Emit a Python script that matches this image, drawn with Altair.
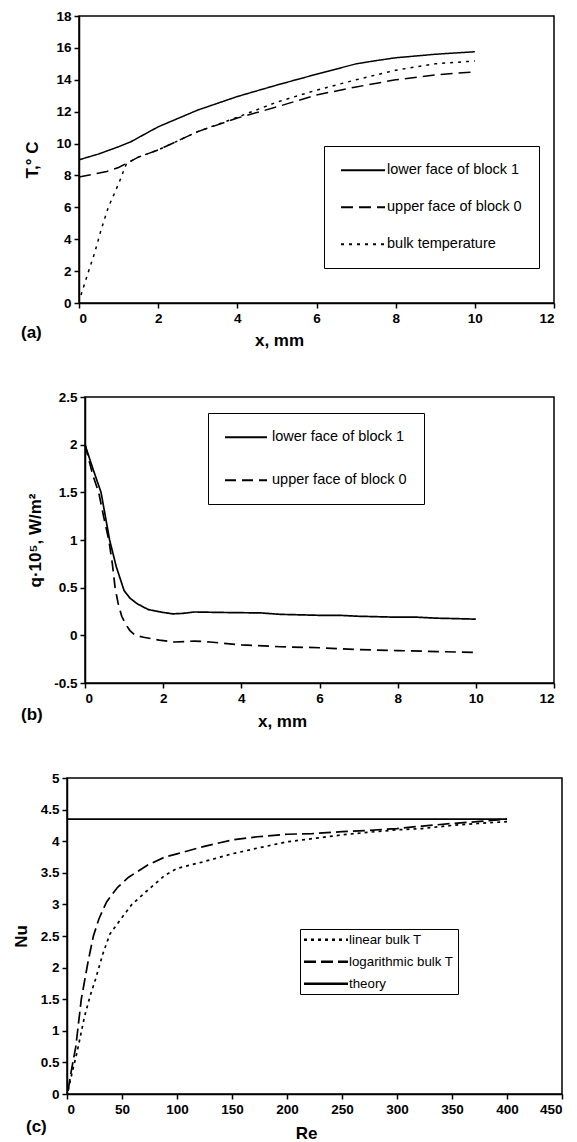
import math
import altair as alt
import pandas as pd

FONT = "Liberation Sans"

# ---------------- Panel (a): temperature ----------------
a_series = ["lower face of block 1", "upper face of block 0", "bulk temperature"]
a_x_lower = [0, 0.5, 1.0, 1.3, 2, 3, 4, 5, 6, 7, 7.5, 8, 9, 10]
a_T_lower = [8.98, 9.35, 9.8, 10.1, 11.05, 12.1, 12.95, 13.67, 14.35, 15.0, 15.2, 15.38, 15.6, 15.76]
a_x_upper = [0, 0.4, 0.7, 1.0, 1.5, 2, 3, 4, 5, 6, 7, 8, 9, 10]
a_T_upper = [7.9, 8.1, 8.25, 8.5, 9.15, 9.6, 10.75, 11.6, 12.3, 13.05, 13.55, 14.0, 14.3, 14.5]
a_x_bulk = [0.05, 0.23, 0.39, 0.56, 0.74, 0.9, 1.02, 1.2, 1.5, 2, 3, 4, 5, 6, 7, 8, 9, 10]
a_T_bulk = [0.5, 1.9, 3.1, 4.6, 6.0, 6.9, 7.6, 8.75, 9.15, 9.6, 10.75, 11.65, 12.6, 13.35, 14.0, 14.6, 15.0, 15.18]

# ---------------- Panel (b): heat flux ----------------
b_series = ["lower face of block 1", "upper face of block 0"]
b_x_lower = [0, 0.2, 0.41, 0.52, 0.63, 0.8, 1.0, 1.15, 1.34, 1.62, 2.0, 2.25, 2.5, 2.8, 3.5, 4.5, 5, 6, 6.5, 7, 8, 8.5, 9, 10]
b_q_lower = [2.0, 1.75, 1.5, 1.25, 1.0, 0.72, 0.47, 0.39, 0.33, 0.27, 0.24, 0.225, 0.23, 0.245, 0.24, 0.235, 0.22, 0.21, 0.21, 0.2, 0.19, 0.19, 0.18, 0.17]
b_x_upper = [0, 0.2, 0.35, 0.5, 0.61, 0.7, 0.77, 0.85, 0.94, 1.05, 1.15, 1.29, 1.5, 1.9, 2.3, 2.8, 3.2, 4, 5, 6, 7, 8, 9, 10]
b_q_upper = [2.0, 1.68, 1.5, 1.2, 1.0, 0.75, 0.5, 0.33, 0.2, 0.11, 0.05, 0.0, -0.02, -0.05, -0.07, -0.06, -0.07, -0.1, -0.12, -0.13, -0.15, -0.16, -0.17, -0.18]

# ---------------- Panel (c): Nusselt number ----------------
c_series = ["linear bulk T", "logarithmic bulk T", "theory"]
c_Re_lin = [1, 6, 9, 16, 21, 26, 33, 39, 49, 59, 73, 89, 100, 123, 150, 173, 200, 223, 250, 273, 300, 323, 350, 373, 400]
c_Nu_lin = [0.06, 0.44, 0.65, 1.23, 1.55, 1.82, 2.24, 2.53, 2.77, 3.0, 3.22, 3.46, 3.57, 3.67, 3.8, 3.89, 3.99, 4.04, 4.1, 4.14, 4.18, 4.2, 4.25, 4.28, 4.31]
c_Re_log = [1, 3, 8, 13, 19, 24, 29, 36, 46, 56, 73, 89, 100, 123, 150, 173, 200, 223, 250, 273, 300, 323, 350, 373, 400]
c_Nu_log = [0.05, 0.28, 0.75, 1.5, 2.08, 2.5, 2.77, 3.04, 3.27, 3.43, 3.62, 3.75, 3.8, 3.91, 4.02, 4.07, 4.11, 4.12, 4.15, 4.17, 4.2, 4.24, 4.28, 4.31, 4.35]
c_Re_theory = [0, 400]
c_Nu_theory = [4.35, 4.35]


def long_df(xs, ys, names, xname, yname):
    rows = []
    for xv, yv, n in zip(xs, ys, names):
        for i, (a, b) in enumerate(zip(xv, yv)):
            rows.append({xname: a, yname: b, "series": n, "i": i})
    return pd.DataFrame(rows)


df_a = long_df([a_x_lower, a_x_upper, a_x_bulk], [a_T_lower, a_T_upper, a_T_bulk], a_series, "x", "T")
df_b = long_df([b_x_lower, b_x_upper], [b_q_lower, b_q_upper], b_series, "x", "q")
df_c = long_df([c_Re_lin, c_Re_log, c_Re_theory], [c_Nu_lin, c_Nu_log, c_Nu_theory], c_series, "Re", "Nu")

LABEL_EXPR = "'' + datum.value"


def x_axis(title, values, title_x, title_y):
    return alt.Axis(title=title, values=values, labelExpr=LABEL_EXPR, titleX=title_x, titleY=title_y,
                    titleBaseline="middle")


def y_axis(title, values, title_x):
    return alt.Axis(title=title, values=values, labelExpr=LABEL_EXPR, titleX=title_x,
                    titleBaseline="middle")


def legend(x, y, size, row_pad, pad, sym_len, sym_w, gap):
    # symbol: horizontal path scaled by sqrt(size)/2 = 5
    half = sym_len / 10.0
    entry = max(math.ceil(10 + sym_w), size)
    sym_off = sym_len / 2 - entry / 2
    return alt.Legend(orient="none", legendX=x, legendY=y, title=None,
                      symbolType="M-%.2f,0H%.2f" % (half, half), symbolSize=100,
                      symbolStrokeWidth=sym_w, symbolStrokeColor="black",
                      symbolOffset=sym_off, labelOffset=sym_len / 2 + gap - entry / 2,
                      labelFont=FONT, labelFontSize=size, labelColor="black",
                      rowPadding=row_pad, padding=pad, strokeColor="black", fillColor="white")


def panel_label(text, x, y):
    return alt.Chart(pd.DataFrame({"t": [text]})).mark_text(
        font=FONT, fontSize=17, fontWeight="bold", align="left", baseline="middle", color="black"
    ).encode(text="t:N", x=alt.value(x), y=alt.value(y))


def spacer(w):
    return alt.Chart(pd.DataFrame({"v": [0]})).mark_rule(opacity=0).encode(
        x=alt.value(0), x2=alt.value(w), y=alt.value(1)
    ).properties(width=w, height=2, view=alt.ViewBackground(strokeOpacity=0))


FRAME = alt.ViewBackground(stroke="black", strokeWidth=1.5)

# Panel (a)
W_A, H_A = 475, 287
line_a = alt.Chart(df_a).mark_line(color="black", strokeWidth=1.5).encode(
    x=alt.X("x:Q", scale=alt.Scale(domain=[0, 12], nice=False),
            axis=x_axis("x, mm", list(range(0, 13, 2)), 200, 37)),
    y=alt.Y("T:Q", scale=alt.Scale(domain=[0, 18], nice=False),
            axis=y_axis("T,° C", list(range(0, 19, 2)), -47)),
    strokeDash=alt.StrokeDash("series:N",
                              scale=alt.Scale(domain=a_series, range=[[1, 0], [12, 6], [3, 5]]),
                              legend=legend(324, 130, 14.5, 22, 17, 44, 2, 2)),
    order="i:Q",
)
chart_a = alt.layer(line_a, panel_label("(a)", -58, 317)).properties(width=W_A, height=H_A, view=FRAME)

# Panel (b)
W_B, H_B = 469, 286
line_b = alt.Chart(df_b).mark_line(color="black", strokeWidth=1.7).encode(
    x=alt.X("x:Q", scale=alt.Scale(domain=[0, 12], nice=False),
            axis=x_axis("x, mm", list(range(0, 13, 2)), 197, 38)),
    y=alt.Y("q:Q", scale=alt.Scale(domain=[-0.5, 2.5], nice=False),
            axis=y_axis("q·10⁵, W/m²", [-0.5, 0, 0.5, 1, 1.5, 2, 2.5], -50)),
    strokeDash=alt.StrokeDash("series:N",
                              scale=alt.Scale(domain=b_series, range=[[1, 0], [11, 6]]),
                              legend=legend(208, 16, 14.5, 28, 17, 42, 2, 5)),
    order="i:Q",
)
chart_b = alt.layer(line_b, panel_label("(b)", -64, 318)).properties(width=W_B, height=H_B, view=FRAME)

# Panel (c)
W_C, H_C = 495, 316
line_c = alt.Chart(df_c).mark_line(color="black", strokeWidth=1.7).encode(
    x=alt.X("Re:Q", scale=alt.Scale(domain=[0, 450], nice=False),
            axis=x_axis("Re", list(range(0, 451, 50)), 239, 39)),
    y=alt.Y("Nu:Q", scale=alt.Scale(domain=[0, 5], nice=False),
            axis=y_axis("Nu", [0, 0.5, 1, 1.5, 2, 2.5, 3, 3.5, 4, 4.5, 5], -46)),
    strokeDash=alt.StrokeDash("series:N",
                              scale=alt.Scale(domain=c_series, range=[[3, 4], [12, 5], [1, 0]]),
                              legend=legend(300, 151, 13.3, 8, 4, 44, 2.5, 1)),
    order="i:Q",
)
chart_c = alt.layer(line_c, panel_label("(c)", -41, 349)).properties(width=W_C, height=H_C, view=FRAME)

row_a = alt.hconcat(spacer(20), chart_a, spacing=0)
row_b = alt.hconcat(spacer(20), chart_b, spacing=0)
row_c = alt.hconcat(spacer(11), chart_c, spacing=0)

chart = alt.vconcat(row_a, row_b, row_c, spacing=40).resolve_scale(
    strokeDash="independent", x="independent", y="independent"
).properties(
    padding={"left": 0, "top": 8, "right": 0, "bottom": 0},
    background="white",
).configure_view(
    stroke="black", strokeWidth=1.5
).configure_axis(
    grid=False, domainColor="black", domainWidth=1.5, tickColor="black", tickSize=5, tickWidth=1.5,
    labelFont=FONT, labelFontWeight="bold", labelFontSize=13.5, labelColor="black", labelPadding=3,
    titleFont=FONT, titleFontWeight="bold", titleFontSize=17, titleColor="black",
)

chart.save("out.html", embed_options={"renderer": "svg", "actions": False})
